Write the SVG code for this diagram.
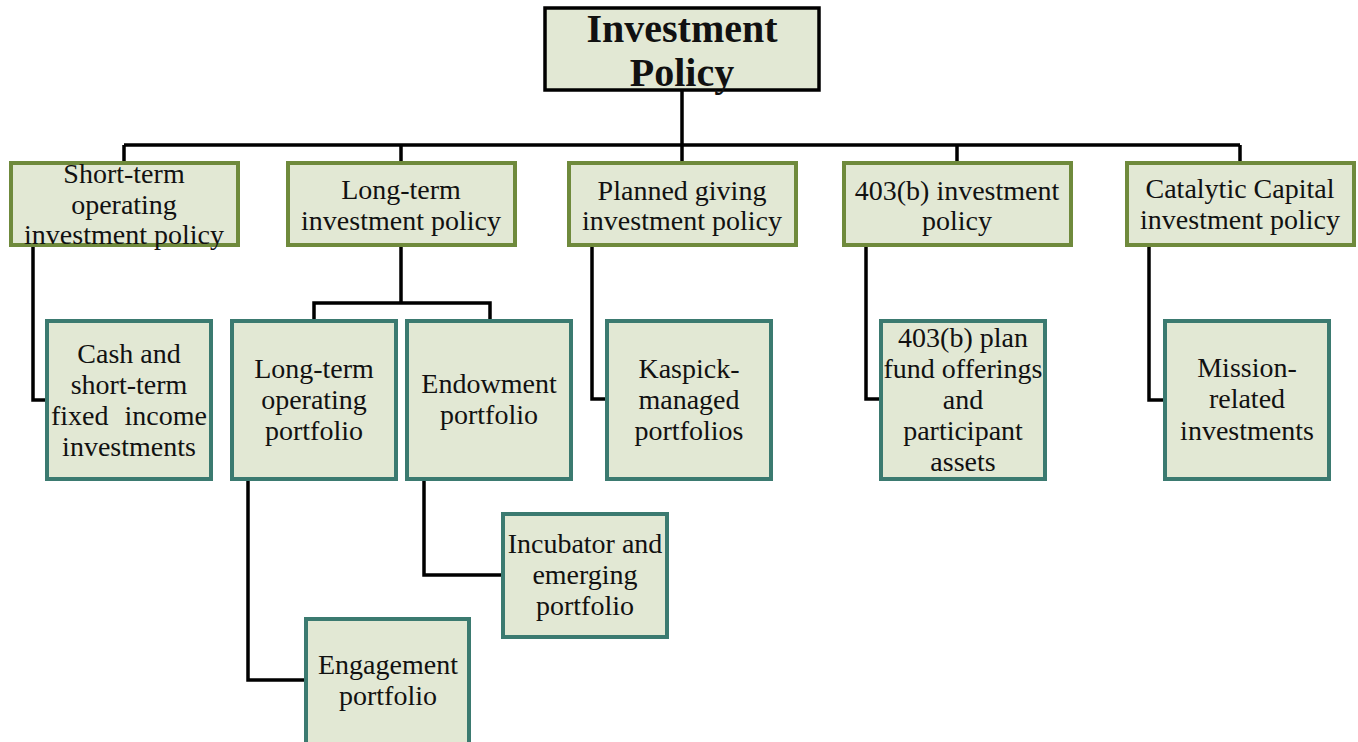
<svg xmlns="http://www.w3.org/2000/svg" width="1358" height="742" viewBox="0 0 1358 742">
<style>
.bg{fill:#ffffff}
.root{fill:#e2e8d4;stroke:#000;stroke-width:3.5}
.l1{fill:#e2e8d4;stroke:#6f8a3c;stroke-width:4}
.l2{fill:#e2e8d4;stroke:#3b7a70;stroke-width:4}
.conn{fill:none;stroke:#000;stroke-width:3.5;stroke-linejoin:miter}
text{font-family:"Liberation Serif","Times New Roman",serif;font-size:28px;fill:#111;text-anchor:middle}
.rt{font-weight:bold;font-size:40px}
</style>
<rect class="bg" x="0" y="0" width="1358" height="742"/>
<g id="connectors">
<path class="conn" d="M682,91 V145 M124,145 H1240 M124,145 V163 M401,145 V163 M682,145 V163 M957,145 V163 M1240,145 V163"/>
<path class="conn" d="M33,246 V400 H47"/>
<path class="conn" d="M401,246 V303 M314,320 V303 H490 V320"/>
<path class="conn" d="M248,479 V680 H306"/>
<path class="conn" d="M424,479 V575 H503"/>
<path class="conn" d="M592,246 V399 H607"/>
<path class="conn" d="M866,246 V399 H881"/>
<path class="conn" d="M1149,246 V400 H1165"/>
</g>
<g id="root">
<rect class="root" x="545" y="8" width="274" height="82"/>
<text class="rt" x="682" y="42">Investment</text>
<text class="rt" x="682" y="86">Policy</text>
</g>
<g id="short-term">
<rect class="l1" x="11" y="163" width="227" height="82"/>
<text x="124" y="183">Short-term</text>
<text x="124" y="214">operating</text>
<text x="124" y="244">investment policy</text>
</g>
<g id="long-term">
<rect class="l1" x="288" y="163" width="227" height="82"/>
<text x="401" y="199">Long-term</text>
<text x="401" y="230">investment policy</text>
</g>
<g id="planned-giving">
<rect class="l1" x="569" y="163" width="227" height="82"/>
<text x="682" y="200">Planned giving</text>
<text x="682" y="230">investment policy</text>
</g>
<g id="b403">
<rect class="l1" x="844" y="163" width="227" height="82"/>
<text x="957" y="200">403(b) investment</text>
<text x="957" y="230">policy</text>
</g>
<g id="catalytic">
<rect class="l1" x="1127" y="163" width="227" height="82"/>
<text x="1240" y="198">Catalytic Capital</text>
<text x="1240" y="229">investment policy</text>
</g>
<g id="cash">
<rect class="l2" x="47" y="321" width="164" height="158"/>
<text x="129" y="363">Cash and</text>
<text x="129" y="394">short-term</text>
<text x="51" y="425" style="text-anchor:start">fixed</text>
<text x="207" y="425" style="text-anchor:end">income</text>
<text x="129" y="456">investments</text>
</g>
<g id="lt-operating">
<rect class="l2" x="232" y="321" width="164" height="158"/>
<text x="314" y="378">Long-term</text>
<text x="314" y="409">operating</text>
<text x="314" y="440">portfolio</text>
</g>
<g id="endowment">
<rect class="l2" x="407" y="321" width="164" height="158"/>
<text x="489" y="393">Endowment</text>
<text x="489" y="424">portfolio</text>
</g>
<g id="kaspick">
<rect class="l2" x="607" y="321" width="164" height="158"/>
<text x="689" y="378">Kaspick-</text>
<text x="689" y="409">managed</text>
<text x="689" y="440">portfolios</text>
</g>
<g id="plan403">
<rect class="l2" x="881" y="321" width="164" height="158"/>
<text x="963" y="347">403(b) plan</text>
<text x="963" y="378">fund offerings</text>
<text x="963" y="409">and</text>
<text x="963" y="440">participant</text>
<text x="963" y="471">assets</text>
</g>
<g id="mission">
<rect class="l2" x="1165" y="321" width="164" height="158"/>
<text x="1247" y="377">Mission-</text>
<text x="1247" y="408">related</text>
<text x="1247" y="440">investments</text>
</g>
<g id="incubator">
<rect class="l2" x="503" y="514" width="164" height="123"/>
<text x="585" y="553">Incubator and</text>
<text x="585" y="584">emerging</text>
<text x="585" y="615">portfolio</text>
</g>
<g id="engagement">
<rect class="l2" x="306" y="619" width="163" height="130"/>
<text x="388" y="674">Engagement</text>
<text x="388" y="705">portfolio</text>
</g>
</svg>
